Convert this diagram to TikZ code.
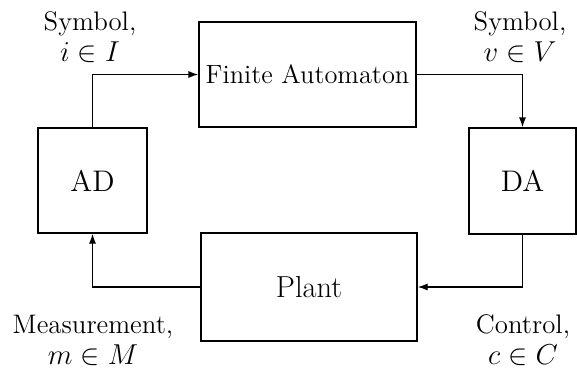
\documentclass[tikz,border=0pt]{standalone}
\usetikzlibrary{arrows.meta}
\begin{document}
\begin{tikzpicture}[x=0.5pt,y=-0.5pt,
  blk/.style={draw,line width=0.7pt,inner sep=0pt,align=center},
  lbl/.style={align=center,inner sep=0pt,font=\fontsize{13.4}{15.5}\selectfont},
  conn/.style={line width=0.7pt,-{Latex[length=5pt,width=3.6pt]}}]
\useasboundingbox (0,0) rectangle (577,370);
\node[blk,minimum width=108.5pt,minimum height=52.5pt,font=\fontsize{13.2}{15}\selectfont] (fa) at (307.5,74.5) {Finite Automaton};
\node[blk,minimum width=54.5pt,minimum height=52.5pt,font=\fontsize{14.9}{17}\selectfont] (ad) at (92.5,180.5) {AD};
\node[blk,minimum width=53.5pt,minimum height=53pt,font=\fontsize{14.9}{17}\selectfont] (da) at (522.5,181) {DA};
\node[blk,minimum width=108pt,minimum height=54pt,font=\fontsize{15.2}{17}\selectfont] (pl) at (309,287) {Plant};
\draw[conn] (ad.north) |- (fa.west);
\draw[conn] (fa.east) -| (da.north);
\draw[conn] (da.south) |- (pl.east);
\draw[conn] (pl.west) -| (ad.south);
\node[lbl] (l1) at (90,37) {Symbol,\\ $i\in I$};
\node[lbl] (l2) at (520,37) {Symbol,\\ $v\in V$};
\node[lbl] (l3) at (93,340) {Measurement,\\ $m\in M$};
\node[lbl] (l4) at (523,340) {Control,\\ $c\in C$};
\end{tikzpicture}
\end{document}
